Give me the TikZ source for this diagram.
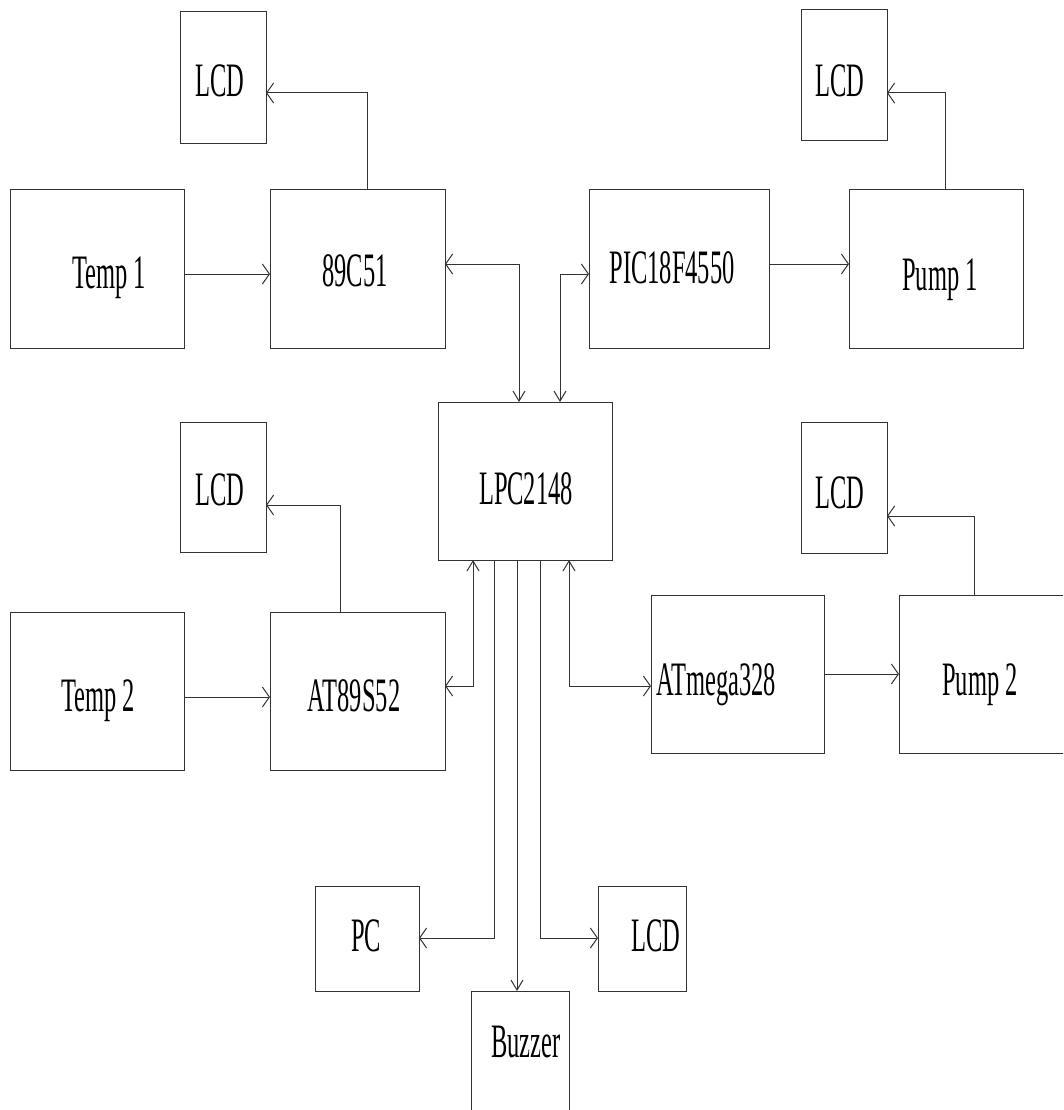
\documentclass[tikz,border=0pt]{standalone}
\usepackage{fontspec}
\setmainfont{Liberation Serif}
\usetikzlibrary{arrows.meta}
\newcommand\nar[1]{\scalebox{0.51}[1]{#1}}
\tikzset{
  box/.style={draw=black!80, line width=1pt, inner sep=0pt, outer sep=0pt},
  lbl/.style={inner sep=0pt, anchor=base, font=\fontsize{48}{52}\selectfont},
  conn/.style={draw=black!80, line width=1pt},
  hend/.tip={Straight Barb[length=7pt, width=20pt, line width=1pt]},
  vend/.tip={Straight Barb[length=10pt, width=12pt, line width=1pt]},
}
\begin{document}
\begin{tikzpicture}[x=1pt, y=-1pt]
\clip (0,0) rectangle (1063,1110);
\fill[white] (0,0) rectangle (1063,1110);
% boxes
\node[box, minimum width=86pt, minimum height=132pt] (lcdA) at (223,78) {};
\node[box, minimum width=174pt, minimum height=158pt] (temp1) at (97,269) {};
\node[box, minimum width=175pt, minimum height=158pt] (c51) at (357.5,269) {};
\node[box, minimum width=180pt, minimum height=158pt] (pic) at (679,269) {};
\node[box, minimum width=174pt, minimum height=158pt] (pump1) at (936,269) {};
\node[box, minimum width=86pt, minimum height=131pt] (lcdB) at (844,75.5) {};
\node[box, minimum width=86pt, minimum height=130pt] (lcdC) at (223,487) {};
\node[box, minimum width=174pt, minimum height=158pt] (lpc) at (525,481) {};
\node[box, minimum width=174pt, minimum height=158pt] (temp2) at (97,691) {};
\node[box, minimum width=175pt, minimum height=158pt] (at52) at (357.5,691) {};
\node[box, minimum width=173pt, minimum height=158pt] (atm) at (737.5,674) {};
\node[box, minimum width=181pt, minimum height=158pt] (pump2) at (989.5,674) {};
\node[box, minimum width=86pt, minimum height=131pt] (lcdD) at (844,487.5) {};
\node[box, minimum width=104pt, minimum height=105pt] (pc) at (367,938.5) {};
\node[box, minimum width=88pt, minimum height=105pt] (lcdE) at (642,938.5) {};
\node[box, minimum width=98pt, minimum height=139pt] (buzzer) at (520,1060.5) {};
% labels
\node[lbl] (tA) at (220,97) {\nar{LCD}};
\node[lbl] (tT1) at (109,288) {\nar{Temp 1}};
\node[lbl] (tC51) at (355,286) {\nar{89C51}};
\node[lbl] (tPIC) at (672,283) {\nar{PIC18F4550}};
\node[lbl] (tP1) at (940,290) {\nar{Pump 1}};
\node[lbl] (tB) at (840,97) {\nar{LCD}};
\node[lbl] (tC) at (220,505) {\nar{LCD}};
\node[lbl] (tLPC) at (526,504) {\nar{LPC2148}};
\node[lbl] (tT2) at (98,711) {\nar{Temp 2}};
\node[lbl] (tAT) at (354,711) {\nar{AT89S52}};
\node[lbl] (tATm) at (716,695) {\nar{ATmega328}};
\node[lbl] (tP2) at (980,695) {\nar{Pump 2}};
\node[lbl] (tD) at (840,508) {\nar{LCD}};
\node[lbl] (tPC) at (366,951) {\nar{PC}};
\node[lbl] (tE) at (656,951) {\nar{LCD}};
\node[lbl] (tBz) at (526,1057) {\nar{Buzzer}};
% connectors
\draw[conn, -{hend}] (temp1.east |- 0,274) -- (c51.west |- 0,274);
\draw[conn, -{hend}] (c51.north -| 367,0) |- (lcdA.east |- 0,93);
\draw[conn, -{hend}] (pic.east |- 0,264) -- (pump1.west |- 0,264);
\draw[conn, -{hend}] (pump1.north -| 945,0) |- (lcdB.east |- 0,93);
\draw[conn, {hend}-{vend}] (c51.east |- 0,264) -| (lpc.north -| 519,0);
\draw[conn, {vend}-{hend}] (lpc.north -| 560,0) |- (pic.west |- 0,274);
\draw[conn, -{hend}] (at52.north -| 340,0) |- (lcdC.east |- 0,505);
\draw[conn, -{hend}] (temp2.east |- 0,697) -- (at52.west |- 0,697);
\draw[conn, {vend}-{hend}] (lpc.south -| 473,0) |- (at52.east |- 0,686);
\draw[conn, {vend}-{hend}] (lpc.south -| 569,0) |- (atm.west |- 0,686);
\draw[conn, -{hend}] (atm.east |- 0,674) -- (pump2.west |- 0,674);
\draw[conn, -{hend}] (pump2.north -| 974,0) |- (lcdD.east |- 0,516);
\draw[conn, -{hend}] (lpc.south -| 494,0) |- (pc.east |- 0,938);
\draw[conn, -{vend}] (lpc.south -| 517,0) -- (buzzer.north -| 517,0);
\draw[conn, -{hend}] (lpc.south -| 540,0) |- (lcdE.west |- 0,938);
\end{tikzpicture}
\end{document}
